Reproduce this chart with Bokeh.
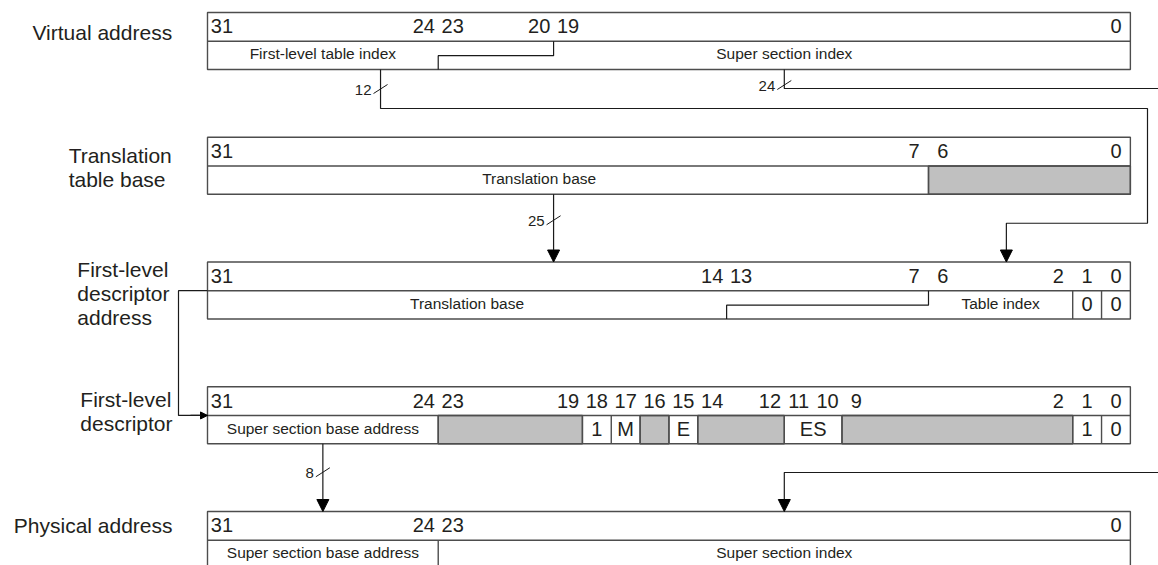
from bokeh.plotting import figure
from bokeh.models import Range1d, Arrow, NormalHead
from bokeh.embed import file_html
from bokeh.resources import INLINE
from bokeh.core.properties import value

# ---------------- data ----------------
row_titles = ["Virtual address", "Translation\ntable base",
              "First-level\ndescriptor\naddress", "First-level\ndescriptor",
              "Physical address"]

# bit numbers printed in the header of each register
va_bits = [31, 24, 23, 20, 19, 0]
ttb_bits = [31, 7, 6, 0]
fda_bits = [31, 14, 13, 7, 6, 2, 1, 0]
fld_bits = [31, 24, 23, 19, 18, 17, 16, 15, 14, 12, 11, 10, 9, 2, 1, 0]
pa_bits = [31, 24, 23, 0]

# field names of the lower row and the bit span each name sits in
va_names = ["First-level table index", "Super section index"]
va_spans = [(31, 24), (23, 0)]
ttb_names = ["Translation base"]
ttb_spans = [(31, 9)]
fda_names = ["Translation base", "Table index", "0", "0"]
fda_spans = [(31, 14), (6, 2), (1, 1), (0, 0)]
fld_names = ["Super section base address", "1", "M", "E", "ES", "1", "0"]
fld_spans = [(31, 24), (18, 18), (17, 17), (15, 15), (11, 10), (1, 1), (0, 0)]
pa_names = ["Super section base address", "Super section index"]
pa_spans = [(31, 24), (23, 0)]

# shaded (unused) bit spans
ttb_shaded = [(6, 0)]
fld_shaded = [(23, 19), (16, 16), (14, 12), (9, 2)]

# plain field boundaries (boundary b lies between bit b and bit b-1)
va_div = []
ttb_div = [7]
fda_div = [2, 1]
fld_div = [24, 19, 18, 17, 16, 15, 12, 10, 2, 1]
pa_div = [24]

# stepped boundaries: (upper boundary, lower boundary)
va_step = [(20, 24)]
fda_step = [(7, 14)]

# number of bits carried along each connector
bits_12, bits_24, bits_25, bits_8 = "12", "24", "25", "8"

# ---------------- layout ----------------
BW = 28.84          # px per bit
LEFT = 207.0        # px of register left edge
W, H = 1158, 565
TOP0, ROW_STEP, HDR, BODY = 12.0, 124.75, 28.7, 28.3
STEP_DY = 14.5
FONT = value("Liberation Sans")
INK = "#231f20"
BOX = "#4d4d4d"
LINE = "#1a1a1a"
GREY = "#c0c0c0"


def to_pos(px):
    return 32 - (px - LEFT) / BW


def dpos(px):
    return px / BW


rows = [
    dict(bits=va_bits, names=va_names, spans=va_spans, shaded=[], div=va_div, step=va_step),
    dict(bits=ttb_bits, names=ttb_names, spans=ttb_spans, shaded=ttb_shaded, div=ttb_div, step=[]),
    dict(bits=fda_bits, names=fda_names, spans=fda_spans, shaded=[], div=fda_div, step=fda_step),
    dict(bits=fld_bits, names=fld_names, spans=fld_spans, shaded=fld_shaded, div=fld_div, step=[]),
    dict(bits=pa_bits, names=pa_names, spans=pa_spans, shaded=[], div=pa_div, step=[]),
]
title_dy = [20, 30.5, 31, 25, 14]

top = [TOP0 + i * ROW_STEP for i in range(len(rows))]
mid = [t + HDR for t in top]
bot = [t + HDR + BODY for t in top]

p = figure(width=W, height=H,
           x_range=Range1d(to_pos(0), to_pos(W)),
           y_range=Range1d(H, 0),
           toolbar_location=None, output_backend="svg", min_border=0,
           x_axis_location=None, y_axis_location=None)
p.grid.visible = False
p.outline_line_color = None
p.background_fill_color = "white"
p.border_fill_color = "white"

# -------- registers --------
for i, r in enumerate(rows):
    if r["shaded"]:
        p.quad(left=[hi + 1 for hi, lo in r["shaded"]], right=[lo for hi, lo in r["shaded"]],
               top=[mid[i]] * len(r["shaded"]), bottom=[bot[i]] * len(r["shaded"]),
               fill_color=GREY, line_color=BOX, line_width=1.4)
    p.quad(left=[32], right=[0], top=[top[i]], bottom=[bot[i]],
           fill_color=None, line_color=BOX, line_width=1.4)
    p.segment(x0=[32], y0=[mid[i]], x1=[0], y1=[mid[i]], line_color=BOX, line_width=1.4)
    if r["div"]:
        p.segment(x0=r["div"], y0=[mid[i]] * len(r["div"]), x1=r["div"],
                  y1=[bot[i]] * len(r["div"]), line_color=BOX, line_width=1.4)
    for u, l in r["step"]:
        p.line(x=[u, u, l, l], y=[mid[i], mid[i] + STEP_DY, mid[i] + STEP_DY, bot[i]],
               line_color=LINE, line_width=1.2)
    # header bit numbers
    p.text(x=[b + 0.5 for b in r["bits"]], y=[top[i] + HDR / 2 - 0.5] * len(r["bits"]),
           text=[str(b) for b in r["bits"]], text_font=FONT, text_font_size=value("20px"),
           text_align="center", text_baseline="middle", text_color=INK)
    # field names
    big = [(n, s) for n, s in zip(r["names"], r["spans"]) if len(n) <= 2]
    small = [(n, s) for n, s in zip(r["names"], r["spans"]) if len(n) > 2]
    for grp, fs, dy in ((big, "20px", -0.5), (small, "15.5px", -1.5)):
        if grp:
            p.text(x=[(s[0] + 1 + s[1]) / 2 for n, s in grp],
                   y=[mid[i] + BODY / 2 + dy] * len(grp),
                   text=[n for n, s in grp], text_font=FONT, text_font_size=value(fs),
                   text_align="center", text_baseline="middle", text_color=INK)

# -------- row titles --------
AW = {" ": 278, "-": 333, "F": 611, "P": 667, "T": 611, "V": 667, "a": 556, "b": 556,
      "c": 500, "d": 556, "e": 556, "h": 556, "i": 222, "l": 222, "n": 556, "o": 556,
      "p": 556, "r": 333, "s": 500, "t": 278, "u": 556, "v": 500, "y": 500}
TFS = 21
TX_RIGHT = 172
for i, t in enumerate(row_titles):
    lines = t.split("\n")
    wmax = max(sum(AW.get(c, 556) for c in ln) for ln in lines) * TFS / 1000
    x_left = to_pos(TX_RIGHT - wmax - (3 if len(lines) == 3 else 0))
    yc = top[i] + title_dy[i]
    n = len(lines)
    p.text(x=[x_left] * n, y=[yc + (k - (n - 1) / 2) * 24 for k in range(n)], text=lines,
           text_font=FONT, text_font_size=value(f"{TFS}px"), text_align="left",
           text_baseline="middle", text_color=INK)

# -------- connectors --------
FAR = to_pos(1175)
LANE = to_pos(1147)
c12_x, c24_x, c25_x, c8_x = 26, 12, 20, 28
tbl_x = 4.3
lines_x = [
    [c12_x, c12_x, LANE, LANE, tbl_x, tbl_x],
    [c24_x, c24_x, FAR],
    [FAR, c24_x, c24_x],
    [32, to_pos(178), to_pos(178), 32],
]
lines_y = [
    [bot[0], bot[0] + 39, bot[0] + 39, bot[1] + 29, bot[1] + 29, top[2] - 10],
    [bot[0], bot[0] + 19, bot[0] + 19],
    [top[4] - 39, top[4] - 39, top[4] - 10],
    [mid[2], mid[2], mid[3], mid[3]],
]
p.multi_line(xs=lines_x, ys=lines_y, line_color=LINE, line_width=1.2)

arrows = [
    (tbl_x, top[2] - 12, tbl_x, top[2], 12),
    (c25_x, bot[1], c25_x, top[2], 12),
    (c24_x, top[4] - 12, c24_x, top[4], 12),
    (c8_x, bot[3], c8_x, top[4], 12),
    (to_pos(190), mid[3], 32, mid[3], 7),
]
for xs, ys, xe, ye, sz in arrows:
    p.add_layout(Arrow(end=NormalHead(size=sz, fill_color="black", line_color="black", line_width=1),
                       x_start=xs, y_start=ys, x_end=xe, y_end=ye,
                       line_color=LINE, line_width=1.2))

# bus-width slashes and labels
slashes = [(c12_x, bot[0] + 19.5, bits_12), (c24_x, bot[0] + 15.5, bits_24),
           (c25_x, bot[1] + 26, bits_25), (c8_x, bot[3] + 28.5, bits_8)]
p.segment(x0=[x + dpos(7) for x, y, t in slashes], y0=[y + 4.5 for x, y, t in slashes],
          x1=[x - dpos(7) for x, y, t in slashes], y1=[y - 4.5 for x, y, t in slashes],
          line_color=LINE, line_width=1.0)
p.text(x=[x + dpos(9) for x, y, t in slashes], y=[y + 1 for x, y, t in slashes],
       text=[t for x, y, t in slashes], text_font=FONT, text_font_size=value("15px"),
       text_align="right", text_baseline="middle", text_color=INK)

open("out.html", "w").write(file_html(p, INLINE))
